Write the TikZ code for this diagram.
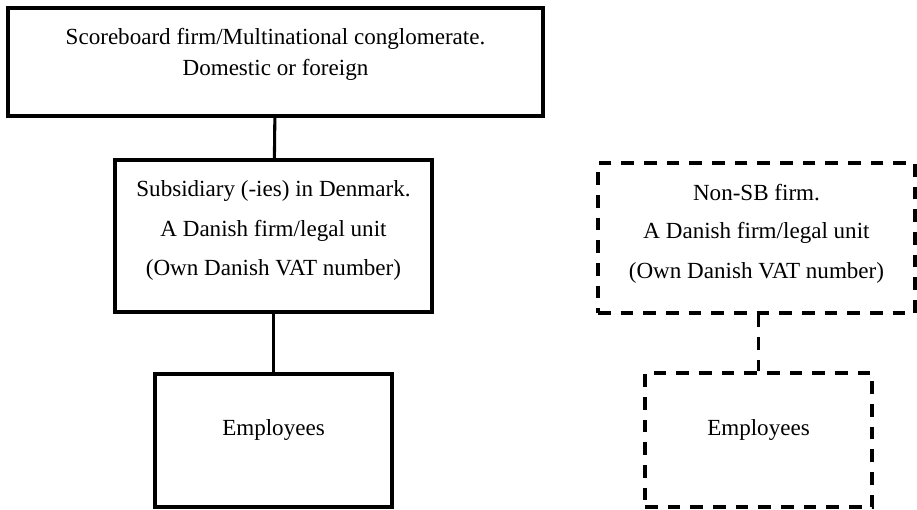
\documentclass[tikz,border=0pt]{standalone}
\usepackage{fontspec}
\setmainfont{Liberation Serif}
\begin{document}
\begin{tikzpicture}[x=0.75pt,y=-0.75pt,
  box/.style={draw=black,line width=2.3pt,rectangle,inner sep=0pt},
  dbox/.style={box,dash pattern=on 9.5pt off 7.5pt},
  conn/.style={draw=black,line width=2.3pt},
  dconn/.style={conn,dash pattern=on 9.5pt off 7.5pt},
  txt/.style={font=\fontsize{17.3}{23}\selectfont,align=center,inner sep=0pt}]
\useasboundingbox (0,0) rectangle (917,510);
% left column
\node[box,minimum width=535*0.75pt,minimum height=108*0.75pt] (top) at (275.5,62) {};
\node[txt] (toptxt) at (275.5,39) {Scoreboard firm/Multinational conglomerate.};
\node[txt] (toptxt2) at (275.5,70) {Domestic or foreign};
\node[box,minimum width=317*0.75pt,minimum height=152*0.75pt] (sub) at (273.5,236) {};
\node[txt] (subt1) at (273.5,191) {Subsidiary (-ies) in Denmark.};
\node[txt] (subt2) at (273.5,231) {A Danish firm/legal unit};
\node[txt] (subt3) at (273.5,270) {(Own Danish VAT number)};
\node[box,minimum width=237*0.75pt,minimum height=133*0.75pt] (emp) at (273.5,440.5) {};
\node[txt] (empt) at (273.5,430) {Employees};
\draw[conn] (top) -- (sub);
\draw[conn] (sub) -- (emp);
% right column
\node[dbox,minimum width=317*0.75pt,minimum height=150*0.75pt] (nsb) at (756.5,238) {};
\node[txt] (nsbt1) at (756.5,193) {Non-SB firm.};
\node[txt] (nsbt2) at (756.5,233) {A Danish firm/legal unit};
\node[txt] (nsbt3) at (756.5,273) {(Own Danish VAT number)};
\node[dbox,minimum width=227*0.75pt,minimum height=134*0.75pt] (emp2) at (758.5,440) {};
\node[txt] (emp2t) at (758.5,430) {Employees};
\draw[dconn] (nsb.south -| emp2.north) -- (emp2.north);
\end{tikzpicture}
\end{document}
